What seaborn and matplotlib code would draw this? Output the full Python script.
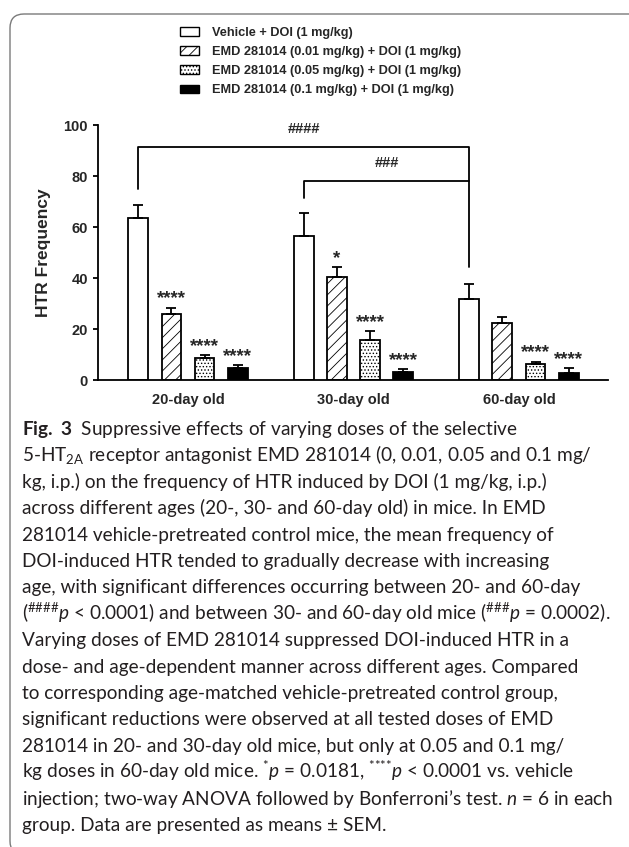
import matplotlib
matplotlib.use('Agg')
import matplotlib.pyplot as plt
import numpy as np
import pandas as pd
import seaborn as sns
from matplotlib.patches import Patch, FancyBboxPatch
from matplotlib.transforms import IdentityTransform

# values (means and SEM)
ages = ['20-day old', '30-day old', '60-day old']
treatments = ['Vehicle + DOI (1 mg/kg)',
              'EMD 281014 (0.01 mg/kg) + DOI (1 mg/kg)',
              'EMD 281014 (0.05 mg/kg) + DOI (1 mg/kg)',
              'EMD 281014 (0.1 mg/kg) + DOI (1 mg/kg)']
vehicle_mean = [63.4, 56.5, 31.8]
vehicle_sem = [5.2, 8.9, 5.7]
emd001_mean = [25.8, 40.5, 22.5]
emd001_sem = [2.6, 3.9, 2.1]
emd005_mean = [8.8, 15.7, 6.3]
emd005_sem = [1.0, 3.6, 0.9]
emd01_mean = [4.6, 3.3, 2.9]
emd01_sem = [1.3, 0.9, 1.9]
vehicle_sig = ['', '', '']
emd001_sig = ['****', '*', '']
emd005_sig = ['****', '****', '****']
emd01_sig = ['****', '****', '****']

caption = [
    r"$\mathbf{Fig.\ 3}$  Suppressive effects of varying doses of the selective",
    r"5-HT$_{2A}$ receptor antagonist EMD 281014 (0, 0.01, 0.05 and 0.1 mg/",
    "kg, i.p.) on the frequency of HTR induced by DOI (1 mg/kg, i.p.)",
    "across different ages (20-, 30- and 60-day old) in mice. In EMD",
    "281014 vehicle-pretreated control mice, the mean frequency of",
    "DOI-induced HTR tended to gradually decrease with increasing",
    "age, with significant differences occurring between 20- and 60-day",
    r"($^{\#\#\#\#}\mathit{p}$ < 0.0001) and between 30- and 60-day old mice ($^{\#\#\#}\mathit{p}$ = 0.0002).",
    "Varying doses of EMD 281014 suppressed DOI-induced HTR in a",
    "dose- and age-dependent manner across different ages. Compared",
    "to corresponding age-matched vehicle-pretreated control group,",
    "significant reductions were observed at all tested doses of EMD",
    "281014 in 20- and 30-day old mice, but only at 0.05 and 0.1 mg/",
    r"kg doses in 60-day old mice. $^{{*}}\mathit{p}$ = 0.0181, $^{{*}{*}{*}{*}}\mathit{p}$ < 0.0001 vs. vehicle",
    r"injection; two-way ANOVA followed by Bonferroni’s test. $\mathit{n}$ = 6 in each",
    "group. Data are presented as means ± SEM.",
]

means = [vehicle_mean, emd001_mean, emd005_mean, emd01_mean]
sems = [vehicle_sem, emd001_sem, emd005_sem, emd01_sem]
sigs = [vehicle_sig, emd001_sig, emd005_sig, emd01_sig]

rows = []
for t, m in zip(treatments, means):
    for a, v in zip(ages, m):
        rows.append({'age': a, 'treatment': t, 'HTR': v})
df = pd.DataFrame(rows)

sns.set_style('ticks')
plt.rcParams['font.family'] = ['Liberation Sans', 'DejaVu Sans']
plt.rcParams['hatch.linewidth'] = 0.6
plt.rcParams['mathtext.fontset'] = 'custom'
plt.rcParams['mathtext.rm'] = 'Lato'
plt.rcParams['mathtext.it'] = 'Lato:italic'
plt.rcParams['mathtext.bf'] = 'Lato:bold'
plt.rcParams['mathtext.default'] = 'regular'

fig = plt.figure(figsize=(6.29, 8.47), dpi=100)
ax = fig.add_axes([98 / 629, 1 - 380 / 847, 510 / 629, 255 / 847])

palette = dict(zip(treatments, ['white', 'white', 'white', 'black']))
hatches = ['', '///', '.....', '']

sns.barplot(data=df, x='age', y='HTR', hue='treatment', hue_order=treatments,
            order=ages, palette=palette, edgecolor='black', linewidth=1.3,
            width=0.8, gap=0.4, errorbar=None, legend=False, ax=ax)

centers = []
for cont, h, m, s, sg in zip(ax.containers, hatches, means, sems, sigs):
    xs = []
    for bar in cont:
        bar.set_hatch(h)
        if hasattr(bar, 'set_hatchcolor'):
            bar.set_hatchcolor('#555555')
        xs.append(bar.get_x() + bar.get_width() / 2)
    xs = np.array(xs)
    centers.append(xs)
    ax.errorbar(xs, m, yerr=[np.zeros(len(m)), s], fmt='none', ecolor='black',
                elinewidth=1.3, capsize=3.6, capthick=1.3, zorder=3)
    for x, top, lab in zip(xs, np.array(m) + np.array(s), sg):
        if lab:
            ax.text(x, top + 1.6, lab, ha='center', va='baseline',
                    fontsize=13.5, fontweight='bold')

# age comparison brackets
x20, x30, x60 = centers[0]
ax.plot([x20, x20, x60, x60], [74.8, 91.5, 91.5, 44.4], color='black', lw=1.3,
        clip_on=False)
ax.plot([x30, x30, x60], [71.4, 78, 78], color='black', lw=1.3, clip_on=False)
ax.text((x20 + x60) / 2, 98.4, '####', ha='center', va='center',
        fontsize=10.5, fontweight='bold')
ax.text((x30 + x60) / 2, 85, '###', ha='center', va='center',
        fontsize=10.5, fontweight='bold')

ax.set_ylim(0, 100)
ax.set_xlim(-0.544, 2.538)
ax.set_yticks([0, 20, 40, 60, 80, 100])
ax.set_xlabel('')
ax.set_ylabel('HTR Frequency', fontsize=12.5, fontweight='bold', labelpad=9)
for lab in ax.get_yticklabels() + ax.get_xticklabels():
    lab.set_fontweight('bold')
    lab.set_fontsize(10.5)
ax.tick_params(axis='y', length=3.6, width=1.3, pad=3.6, color='black')
ax.tick_params(axis='x', length=0, pad=9)
sns.despine(ax=ax)
for sp in ['left', 'bottom']:
    ax.spines[sp].set_linewidth(1.3)
    ax.spines[sp].set_color('black')

handles = [Patch(facecolor=palette[t], edgecolor='black', hatch=h, linewidth=1.0)
           for t, h in zip(treatments, hatches)]
fig.legend(handles, treatments, loc='upper left',
           bbox_to_anchor=(180 / 629, 1 - 27 / 847), frameon=False,
           prop={'family': 'Liberation Sans', 'weight': 'bold', 'size': 9.2},
           handlelength=1.5, handleheight=0.6, handletextpad=1.0,
           labelspacing=0.55, borderpad=0, borderaxespad=0)

# rounded frame around the figure panel
frame = FancyBboxPatch((10, -8), 640, 841, boxstyle='round,pad=0,rounding_size=14',
                       transform=IdentityTransform(), facecolor='none',
                       edgecolor='#7a7a7a', linewidth=1.0)
fig.patches.append(frame)

for i, line in enumerate(caption):
    fig.text(22 / 629, 1 - (435 + 26.4 * i) / 847, line, fontsize=13.7,
             family='Lato', va='baseline', color='#231f20')

fig.savefig('out.png', dpi=100)
